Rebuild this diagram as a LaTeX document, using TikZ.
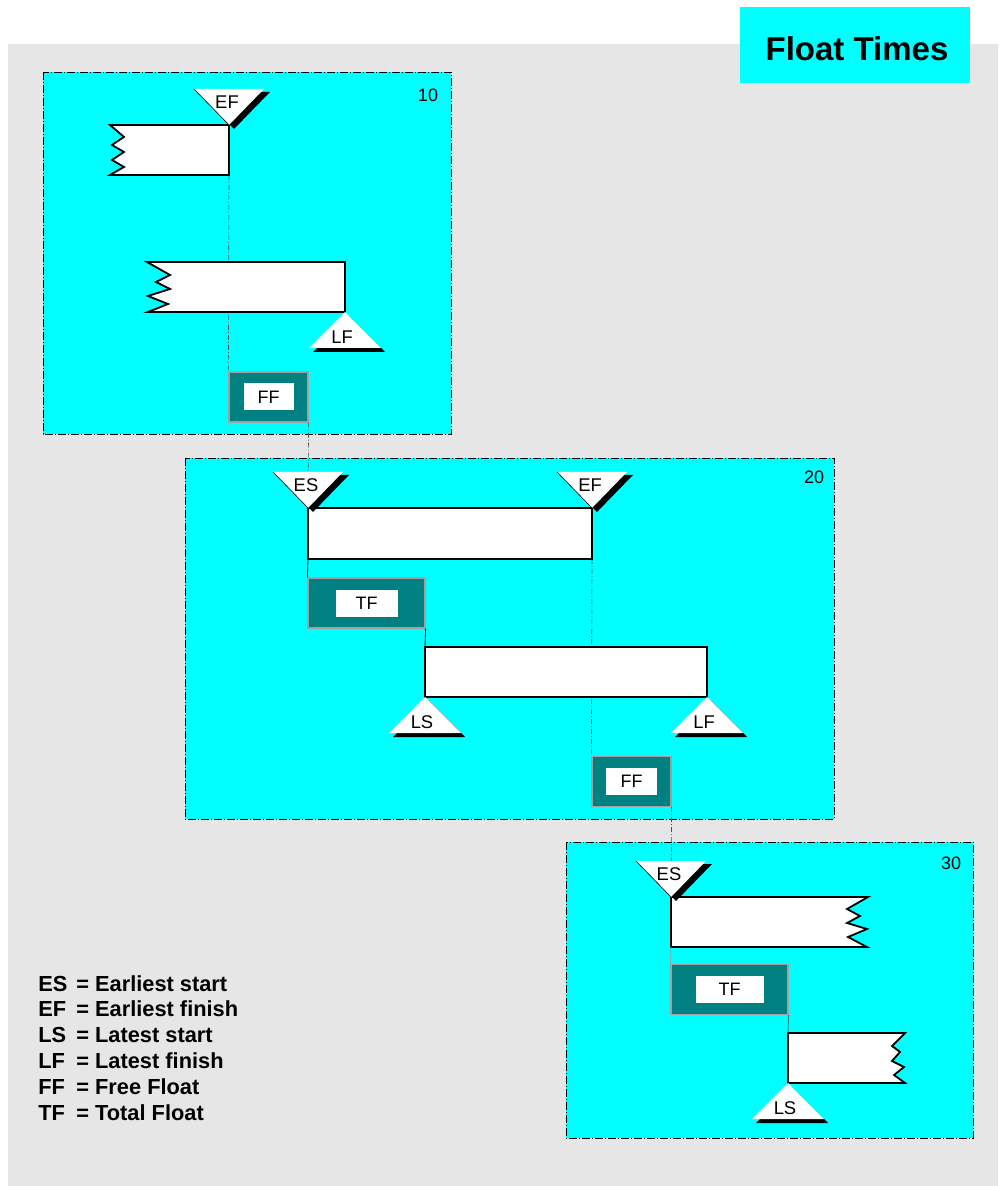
\documentclass[tikz,border=0pt]{standalone}
\usepackage{fontspec}
\setmainfont{Liberation Sans}
\usetikzlibrary{positioning}
\definecolor{bgray}{RGB}{230,230,230}
\definecolor{pcyan}{RGB}{0,255,255}
\definecolor{pteal}{RGB}{0,128,128}
\definecolor{fgray}{RGB}{160,160,160}

\begin{document}
\begin{tikzpicture}[x=0.5pt,y=-0.5pt,
  panel/.style={fill=pcyan,draw=black,line width=0.4pt,
                dash pattern=on 4pt off 1pt on 0.5pt off 1pt},
  num/.style={font=\fontsize{9}{10}\selectfont,inner sep=0pt},
  bar/.style={fill=white,draw=black,line width=0.9pt},
  fbox/.style={rectangle,fill=pteal,draw=fgray,line width=0.6pt,
               minimum height=25pt,inner sep=0pt},
  flbl/.style={rectangle,fill=white,minimum height=13.5pt,inner sep=0pt,
               font=\fontsize{9}{10}\selectfont},
  guide/.style={black!70,line width=0.3pt,
                dash pattern=on 2.5pt off 1pt on 0.5pt off 1pt},
  link/.style={black,line width=0.4pt},
  tlbl/.style={font=\fontsize{9.2}{10}\selectfont,inner sep=0pt},
  leg/.style={font=\fontsize{10.9}{12}\selectfont\bfseries,inner sep=0pt,
              anchor=base west},
  pics/downtri/.style={code={
    \fill[black] (-30,-33) -- (41,-33) -- (5,4) -- cycle;
    \fill[white] (-35,-36) -- (35,-36) -- (0,0) -- cycle;
    \draw[black,line width=0.3pt] (-35,-36) -- (0,0);
    \node[tlbl] (-t) at (-2,-23) {#1};
  }},
  pics/uptri/.style={code={
    \fill[black] (4,4) -- (40,40) -- (-32,40) -- cycle;
    \fill[white] (0,0) -- (36,36) -- (-36,36) -- cycle;
    \node[tlbl] (-t) at (-3,25) {#1};
  }}
]
\useasboundingbox (0,0) rectangle (998,1186);
\fill[bgray] (8,44) rectangle (998,1186);

% title
\fill[pcyan] (740,7) rectangle (970,83);
\node[font=\fontsize{16.5}{18}\selectfont\bfseries,inner sep=0pt] (title) at (857,49) {Float Times};

% panels
\draw[panel] (43,72) rectangle (451,434);
\node[num] (n10) at (428,95) {10};
\draw[panel] (185,458) rectangle (834,819);
\node[num] (n20) at (814,477) {20};
\draw[panel] (566,842) rectangle (973,1138);
\node[num] (n30) at (951,863) {30};

% corners of the bars
\coordinate (b10a-ne) at (229,125); \coordinate (b10a-se) at (229,175);
\coordinate (b10b-ne) at (345,262); \coordinate (b10b-se) at (345,312);
\coordinate (b20a-nw) at (308,508); \coordinate (b20a-ne) at (592,508);
\coordinate (b20a-sw) at (308,559); \coordinate (b20a-se) at (592,559);
\coordinate (b20b-nw) at (425,647); \coordinate (b20b-ne) at (707,647);
\coordinate (b20b-sw) at (425,697); \coordinate (b20b-se) at (707,697);
\coordinate (b30a-nw) at (671,897); \coordinate (b30a-sw) at (671,947);
\coordinate (b30b-nw) at (788,1033); \coordinate (b30b-sw) at (788,1083);

% float boxes
\node[fbox,minimum width=39.5pt] (ff10) at (268.5,397) {};
\node[flbl,minimum width=25pt] (ff10t) at (ff10) {FF};
\node[fbox,minimum width=58.5pt] (tf20) at (366.5,603) {};
\node[flbl,minimum width=31pt] (tf20t) at (tf20) {TF};
\node[fbox,minimum width=39.5pt] (ff20) at (631.5,781.5) {};
\node[flbl,minimum width=25.5pt] (ff20t) at (ff20) {FF};
\node[fbox,minimum width=58.5pt] (tf30) at (729.5,989.5) {};
\node[flbl,minimum width=34pt] (tf30t) at (tf30) {TF};

% guides behind the bars
\draw[guide] (b10a-se) -- (ff10.north west);
\draw[guide] (ff10.south east) -- (b20a-nw);
\draw[guide] (b20a-se) -- (ff20.north west);
\draw[guide] (ff20.south east) -- (b30a-nw);

% bars
\draw[bar] (110,125) -- (b10a-ne) -- (b10a-se) -- (110,175) -- (124,167)
  -- (112,160) -- (124,152) -- (112,145) -- (124,137) -- cycle;
\draw[bar] (147,262) -- (b10b-ne) -- (b10b-se) -- (148,312) -- (168,304)
  -- (148,296) -- (170,289) -- (156,282) -- (170,275) -- cycle;
\draw[bar] (b20a-nw) rectangle (b20a-se);
\draw[bar] (b20b-nw) rectangle (b20b-se);
\draw[bar] (b30a-nw) -- (868,897) -- (847,909) -- (860,916) -- (847,923)
  -- (867,929) -- (848,937) -- (867,947) -- (b30a-sw) -- cycle;
\draw[bar] (b30b-nw) -- (905,1033) -- (892,1046) -- (900,1052) -- (892,1061)
  -- (904,1067) -- (894,1075) -- (905,1083) -- (b30b-sw) -- cycle;

% links
\draw[link] (b20a-sw) -- (tf20.north west);
\draw[link] (tf20.south east) -- (b20b-nw);
\draw[link,fgray] (b30a-sw) -- (tf30.north west);
\draw[link,pteal] (tf30.south east) -- (b30b-nw);

% markers
\pic (ef10) at (b10a-ne) {downtri=EF};
\pic (lf10) at (b10b-se) {uptri=LF};
\pic (es20) at (b20a-nw) {downtri=ES};
\pic (ef20) at (b20a-ne) {downtri=EF};
\pic (ls20) at (b20b-sw) {uptri=LS};
\pic (lf20) at (b20b-se) {uptri=LF};
\pic (es30) at (b30a-nw) {downtri=ES};
\pic (ls30) at (b30b-sw) {uptri=LS};

% legend
\foreach \ab/\txt [count=\i] in {ES/Earliest start, EF/Earliest finish,
    LS/Latest start, LF/Latest finish, FF/Free Float, TF/Total Float} {
  \node[leg] (key\i) at (38,{991+(\i-1)*25.8}) {\ab};
  \node[leg] (def\i) at (76,{991+(\i-1)*25.8}) {= \txt};
}
\end{tikzpicture}
\end{document}
